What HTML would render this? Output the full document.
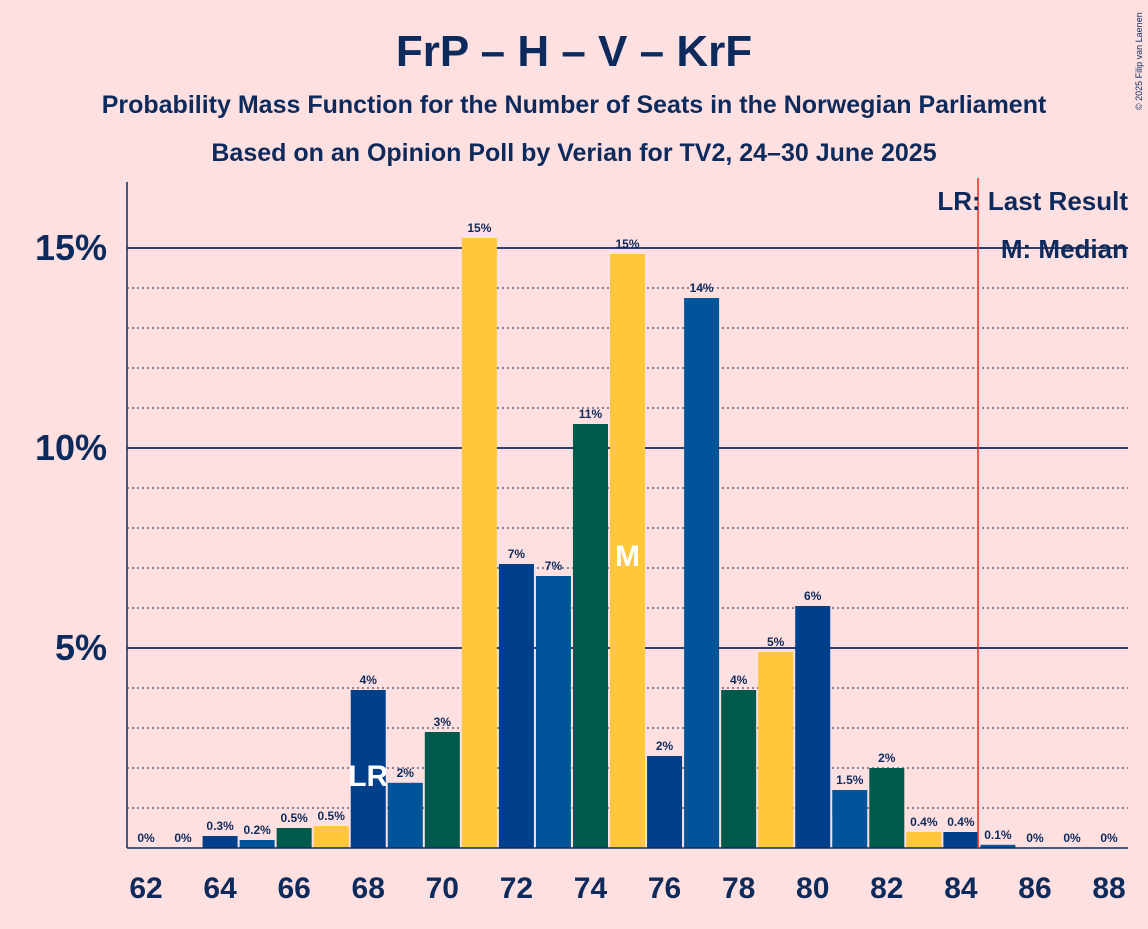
<!DOCTYPE html>
<html><head><meta charset="utf-8"><style>
body{margin:0;background:#ffe0e0;font-family:"Liberation Sans",sans-serif;}
svg text{font-family:"Liberation Sans",sans-serif;fill:#0d2a5c;}
</style></head><body>
<svg width="1148" height="924" id="c">
<rect width="1148" height="924" fill="#ffe0e0"/>
<text x="574" y="66" text-anchor="middle" font-size="44" font-weight="bold">FrP – H – V – KrF</text>
<text x="574" y="113" text-anchor="middle" font-size="25" font-weight="bold">Probability Mass Function for the Number of Seats in the Norwegian Parliament</text>
<text x="574" y="161" text-anchor="middle" font-size="25" font-weight="bold">Based on an Opinion Poll by Verian for TV2, 24–30 June 2025</text>
<text x="1142" y="110" font-size="9" transform="rotate(-90 1142 110)">© 2025 Filip van Laenen</text>
<g id="grid"></g>
<g id="bars"></g>
<line x1="127" y1="182" x2="127" y2="848" stroke="#0d2a5c" stroke-width="1.5"/>
<line x1="127" y1="848" x2="1128" y2="848" stroke="#0d2a5c" stroke-width="1.5"/>
<line x1="978" y1="178" x2="978" y2="848" stroke="#ff2020" stroke-width="1.5"/>
<text x="1128" y="210" text-anchor="end" font-size="26" font-weight="bold">LR: Last Result</text>
<text x="1128" y="258" text-anchor="end" font-size="26" font-weight="bold">M: Median</text>
</svg>
<script>
const seats=[62,63,64,65,66,67,68,69,70,71,72,73,74,75,76,77,78,79,80,81,82,83,84,85,86,87,88];
const probs=[0,0,0.3,0.2,0.5,0.55,3.95,1.63,2.9,15.25,7.1,6.8,10.6,14.85,2.3,13.75,3.95,4.9,6.05,1.45,2.0,0.4,0.4,0.08,0,0,0];
const labels=["0%","0%","0.3%","0.2%","0.5%","0.5%","4%","2%","3%","15%","7%","7%","11%","15%","2%","14%","4%","5%","6%","1.5%","2%","0.4%","0.4%","0.1%","0%","0%","0%"];
const yTicks=[5,10,15];
const lastResult=68, median=75;
const colors=["#003f8a","#00559a","#005a4b","#ffc83a"];
const NS="http://www.w3.org/2000/svg";
const x=s=>146+(s-62)*37.04;
const y=v=>848-v*40;
const g=document.getElementById('grid'), b=document.getElementById('bars');
function mk(t,a,p){const e=document.createElementNS(NS,t);for(const k in a)e.setAttribute(k,a[k]);p.appendChild(e);return e;}
for(let v=1;v<=15;v++){
 const l=mk('line',{x1:127,x2:1128,y1:y(v),y2:y(v),stroke:'#0d2a5c','stroke-width':v%5?1:1.8,'stroke-dasharray':v%5?'2,3':''},g);
 
 
}
yTicks.forEach(v=>{const t=mk('text',{x:107,y:y(v)+12,'text-anchor':'end','font-size':36,'font-weight':'bold'},g);t.textContent=v+'%';
 
 });
seats.forEach((s,i)=>{
 const h=probs[i]*40;
 if(h>0){const r=mk('rect',{x:x(s)-17.5,y:y(probs[i]),width:35,height:h,fill:colors[(s-64+400)%4]},b);
 
 }
 const t=mk('text',{x:x(s),y:y(probs[i])-6,'text-anchor':'middle','font-size':12,'font-weight':'bold'},b);t.textContent=labels[i];
 
 
 if(s%2===0){const xt=mk('text',{x:x(s),y:898,'text-anchor':'middle','font-size':30,'font-weight':'bold'},b);xt.textContent=s;
 
 }
 if(s===lastResult){const m=mk('text',{x:x(s),y:786,'text-anchor':'middle','font-size':30,'font-weight':'bold',style:'fill:#fff'},b);m.textContent='LR';
 
 }
 if(s===median){const m=mk('text',{x:x(s),y:566,'text-anchor':'middle','font-size':30,'font-weight':'bold',style:'fill:#fff'},b);m.textContent='M';
 
 }
});
</script>
</body></html>
